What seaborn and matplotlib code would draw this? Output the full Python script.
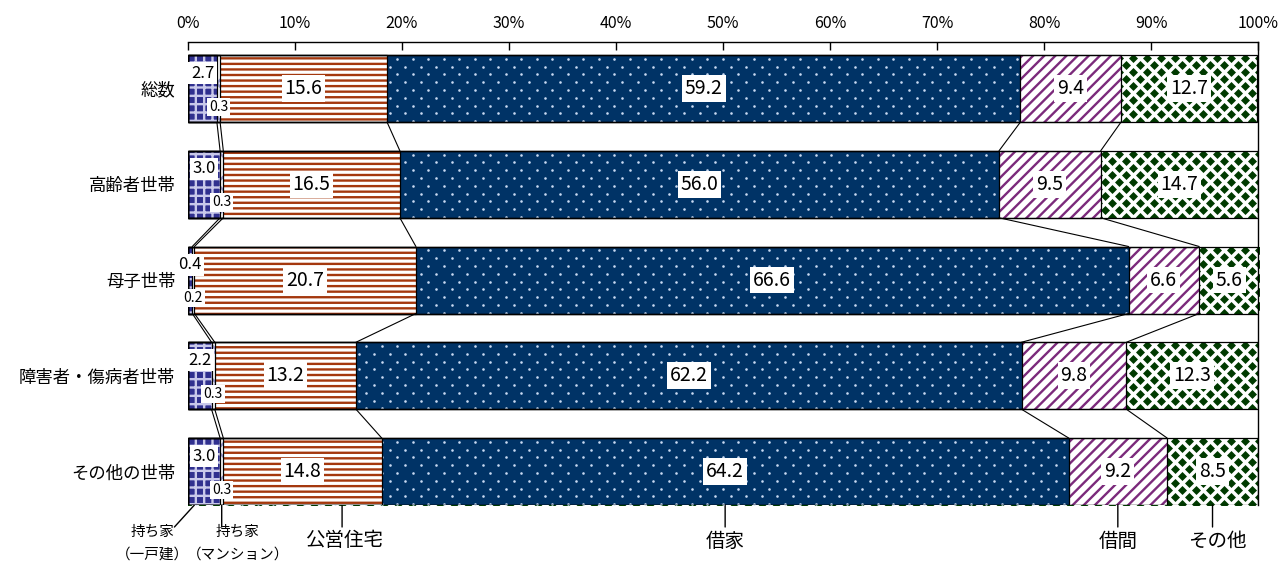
import numpy as np
import matplotlib
matplotlib.use('Agg')
import matplotlib.pyplot as plt
import seaborn as sns

# ---- data ----
categories = ['総数', '高齢者世帯', '母子世帯', '障害者・傷病者世帯', 'その他の世帯']
own_house = [2.7, 3.0, 0.4, 2.2, 3.0]          # 持ち家（一戸建）
own_condo = [0.3, 0.3, 0.2, 0.3, 0.3]          # 持ち家（マンション）
public_housing = [15.6, 16.5, 20.7, 13.2, 14.8]  # 公営住宅
rented_house = [59.2, 56.0, 66.6, 62.2, 64.2]  # 借家
rented_room = [9.4, 9.5, 6.6, 9.8, 9.2]        # 借間
other = [12.7, 14.7, 5.6, 12.3, 8.5]           # その他
series_names = ['持ち家\n（一戸建）', '持ち家\n（マンション）', '公営住宅', '借家', '借間', 'その他']
x_ticks = [0, 10, 20, 30, 40, 50, 60, 70, 80, 90, 100]
x_tick_labels = ['0%', '10%', '20%', '30%', '40%', '50%', '60%', '70%', '80%', '90%', '100%']

sns.set_theme(style='white')
plt.rcParams['font.family'] = ['Noto Sans CJK JP', 'DejaVu Sans']
plt.rcParams['text.color'] = 'black'
plt.rcParams['hatch.linewidth'] = 1.7

series = [own_house, own_condo, public_housing, rented_house, rented_room, other]
vals = np.array(series, dtype=float)
cum = np.cumsum(vals, axis=0)
starts = cum - vals

styles = [
    dict(face='#30308f', hatch='++', hc='#c8c8ea'),
    dict(face='white', hatch='x', hc='#9a9ad0'),
    dict(face='white', hatch='---', hc='#a4380e'),
    dict(face='#003366', hatch=None, hc='#003366'),
    dict(face='white', hatch='///', hc='#7b2a7b'),
    dict(face='white', hatch=None, hc='white'),
]

W, H = 1279, 567
fig = plt.figure(figsize=(W / 100, H / 100), dpi=100)
ax = fig.add_axes([188 / W, (H - 505) / H, 1070 / W, 463 / H])

BAR_W = 0.7
half = BAR_W / 2
layer_patches = {}
for k in reversed(range(6)):
    st = styles[k]
    kw = dict(hatch=st['hatch']) if st['hatch'] else {}
    sns.barplot(x=cum[k], y=categories, orient='h', color=st['face'],
                saturation=1, errorbar=None, width=BAR_W,
                edgecolor=st['hc'], linewidth=0, zorder=1 + (5 - k),
                ax=ax, **kw)
    layer_patches[k] = list(ax.containers[-1])

ax.set_xlim(0, 100)
ax.set_ylim(4.35, -0.486)
px_x = 100 / 1070
px_y = 1 / 95.7


def texture(i, patch, dx, dy, marker, s, color, z):
    X, Y = [], []
    ys = np.arange(i - half - 4 * px_y, i + half + 4 * px_y, dy * px_y)
    for r, yv in enumerate(ys):
        xs = np.arange(0, 101, dx * px_x) + (dx / 2 * px_x if r % 2 else 0)
        X.extend(xs)
        Y.extend([yv] * len(xs))
    sc = ax.scatter(X, Y, marker=marker, s=s, color=color, linewidths=0, zorder=z)
    sc.set_clip_path(patch)


# diamond texture for その他, dot texture for 借家
for i in range(5):
    texture(i, layer_patches[5][i], 14, 7, 'D', 21, '#003a00', 1.5)
    texture(i, layer_patches[3][i], 15.5, 7.8, 'o', 3.5, '#c8daf2', 3.5)

# outlines
for k in range(6):
    sns.barplot(x=cum[k], y=categories, orient='h', fill=False, color='black',
                errorbar=None, width=BAR_W, linewidth=0.9, zorder=10, ax=ax)

# connectors
for i in range(4):
    for k in range(5):
        ax.plot([cum[k, i], cum[k, i + 1]], [i + half, i + 1 - half],
                color='black', lw=0.8, zorder=5)

# value labels
for k in range(6):
    for i in range(5):
        v = vals[k, i]
        mid = starts[k, i] + v / 2
        if k == 0:
            y, fs = i - 0.16, 12
        elif k == 1:
            y, fs = i + 0.19, 10
        else:
            y, fs = i, 14
        ax.text(mid, y, f'{v:.1f}', ha='center', va='center', fontsize=fs,
                color='black', zorder=20,
                bbox=dict(boxstyle='square,pad=0.15', fc='white', ec='none'))

# bottom series labels
anchor_frac = [0.2, 0.5, 0.75, 0.5, 0.5, 0.5]
line_end = [(-20, -22), (0, -22), (0, -22), (0, -22), (0, -22), (0, -22)]
text_off = [(-42, -38), (16, -38), (2, -36), (0, -36), (0, -36), (5, -36)]
fsz = [10.5, 10.5, 14, 14, 14, 14]
last = 4
for k in range(6):
    xa = starts[k, last] + vals[k, last] * anchor_frac[k]
    ax.annotate('', xy=(xa, last + half), xytext=line_end[k],
                textcoords='offset pixels',
                arrowprops=dict(arrowstyle='-', lw=1, color='black',
                                shrinkA=0, shrinkB=0), annotation_clip=False)
    ax.annotate(series_names[k], xy=(xa, last + half), xytext=text_off[k],
                textcoords='offset pixels', ha='center', va='center',
                fontsize=fsz[k], color='black', linespacing=1.75,
                annotation_clip=False)

# axes
ax.set_xticks(x_ticks)
ax.set_xticklabels(x_tick_labels)
ax.xaxis.tick_top()
ax.tick_params(axis='x', direction='in', length=6, width=1, color='black',
               pad=7, labelsize=11.5, labelcolor='black', top=True, bottom=False)
ax.set_yticks(range(5))
ax.set_yticklabels(categories)
ax.tick_params(axis='y', length=0, pad=9, labelsize=12.5, labelcolor='black')
ax.set_xlabel('')
ax.set_ylabel('')
for s in ['left', 'bottom']:
    ax.spines[s].set_visible(False)
for s in ['top', 'right']:
    ax.spines[s].set_visible(True)
    ax.spines[s].set_color('black')
    ax.spines[s].set_linewidth(1)
ax.set_xlim(0, 100)
ax.set_ylim(4.35, -0.486)

fig.savefig('out.png', dpi=100)
